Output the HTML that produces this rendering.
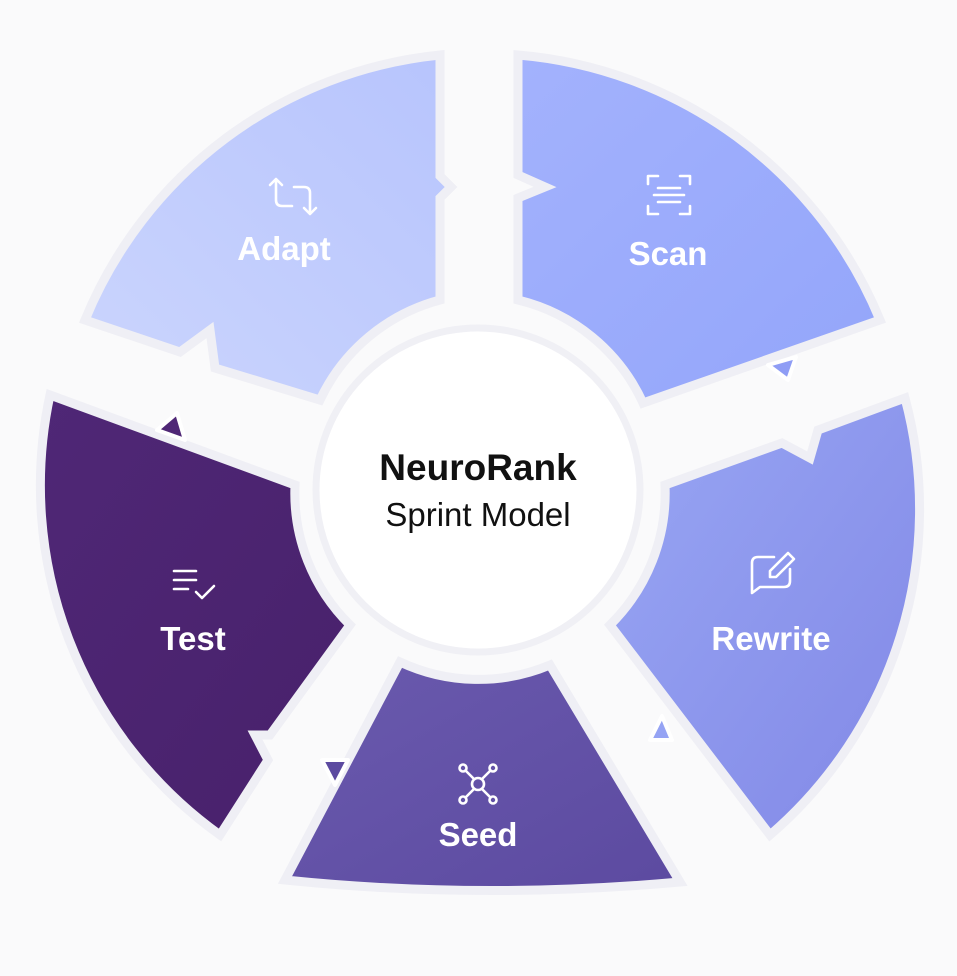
<!DOCTYPE html>
<html><head><meta charset="utf-8"><style>
html,body{margin:0;padding:0;background:#fafafb;}
svg{display:block}
text{font-family:"Liberation Sans",sans-serif;}
</style></head><body>
<svg width="957" height="976" viewBox="0 0 957 976" xmlns="http://www.w3.org/2000/svg">
<defs>
<linearGradient id="gA" x1="0" y1="1" x2="1" y2="0"><stop offset="0" stop-color="#cbd5fd"/><stop offset="1" stop-color="#b7c4fd"/></linearGradient>
<linearGradient id="gS" x1="0" y1="0" x2="1" y2="1"><stop offset="0" stop-color="#a3b2fd"/><stop offset="1" stop-color="#93a5fa"/></linearGradient>
<linearGradient id="gR" x1="0" y1="0" x2="1" y2="1"><stop offset="0" stop-color="#98a6f4"/><stop offset="1" stop-color="#8288e6"/></linearGradient>
<linearGradient id="gSe" x1="0" y1="0" x2="1" y2="1"><stop offset="0" stop-color="#6a5aae"/><stop offset="1" stop-color="#5c4aa0"/></linearGradient>
<linearGradient id="gT" x1="0" y1="0" x2="1" y2="1"><stop offset="0" stop-color="#4f2776"/><stop offset="1" stop-color="#48216b"/></linearGradient>
</defs>
<g stroke="#efeff5" stroke-width="9" stroke-linejoin="miter">
<path fill="url(#gA)" d="M440,55 L440,176 L451,187 L440,198 L440,300 A185,185 0 0 0 320,400 L215,368 L210,330 L180,352 L85,320 A430,430 0 0 1 440,55 Z"/>
<path fill="url(#gS)" d="M518,55 A430,430 0 0 1 880,320 L643,403 A185,185 0 0 0 518,300 L518,198 L545,187 L518,175 Z"/>
<path fill="url(#gR)" d="M905,398 A430,430 0 0 1 770,835 L610,625 A185,185 0 0 0 665,485 L782,443 L810,458 L818,430 Z"/>
<path fill="url(#gSe)" d="M400,662 A185,185 0 0 0 550,665 L680,882 Q480,900 285,880 Z"/>
<path fill="url(#gT)" d="M50,395 L295,485 A185,185 0 0 0 350,625 L270,735 L255,735 L268,760 L220,835 A430,430 0 0 1 50,395 Z"/>
</g>
<circle cx="478" cy="490" r="162" fill="#ffffff" stroke="#f0f0f5" stroke-width="7"/>
<g stroke="#ffffff" stroke-width="4" stroke-linejoin="round">
<polygon points="768,365 796,357 788,380" fill="#8f9df5"/>
<polygon points="157,430 177,413 185,440" fill="#4f2776"/>
<polygon points="650,740 672,740 662,716" fill="#95a3f4"/>
<polygon points="322,760 348,760 335,785" fill="#5c4aa0"/>
</g>
<text x="478" y="480" text-anchor="middle" font-size="37" font-weight="bold" fill="#111">NeuroRank</text>
<text x="478" y="526" text-anchor="middle" font-size="33" fill="#111">Sprint Model</text>
<g fill="#fff" font-size="33" font-weight="bold" text-anchor="middle">
<text x="284" y="260">Adapt</text>
<text x="668" y="265">Scan</text>
<text x="771" y="650">Rewrite</text>
<text x="478" y="846">Seed</text>
<text x="193" y="650">Test</text>
</g>
<g fill="none" stroke="#fff" stroke-width="2.6" stroke-linecap="round" stroke-linejoin="round">
<path d="M270,185 l6,-6 l6,6 M276,180 v20 q0,6 6,6 h10"/>
<path d="M316,208 l-6,6 l-6,-6 M310,213 v-20 q0,-6 -6,-6 h-10"/>
<path d="M648,184 v-8 h10 M690,184 v-8 h-10 M648,206 v8 h10 M690,206 v8 h-10 M654,195 h30 M658,188 h22 M658,202 h22"/>
<path d="M774,557 h-16 q-6,0 -6,6 v30 l8,-6 h24 q6,0 6,-6 v-12"/>
<path d="M788,553 l6,6 l-18,18 h-6 v-6 Z"/>
<circle cx="478" cy="784" r="6"/><circle cx="463" cy="768" r="3.5"/><circle cx="493" cy="768" r="3.5"/><circle cx="463" cy="800" r="3.5"/><circle cx="493" cy="800" r="3.5"/>
<path d="M466,771 l8,8 M490,771 l-8,8 M466,797 l8,-8 M490,797 l-8,-8"/>
<path d="M174,571 h22 M174,580 h22 M174,589 h14 M196,592 l6,6 l12,-12"/>
</g>
</svg>
</body></html>
